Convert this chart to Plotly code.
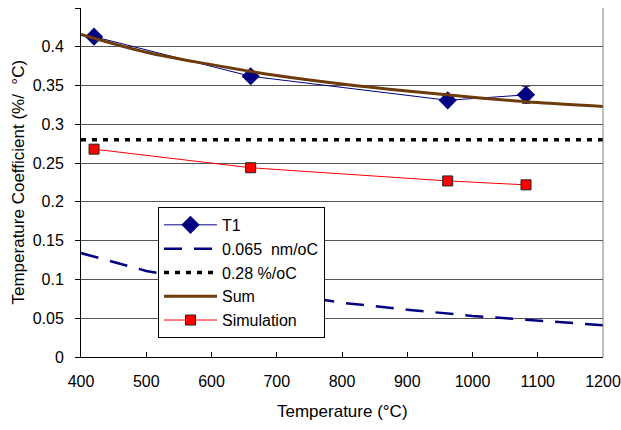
import plotly.graph_objects as go

# T1 measured
t1_x = [420, 660, 962, 1082]
t1_y = [0.413, 0.362, 0.331, 0.338]
t1_err = [0.004, 0.003, 0.003, 0.011]

# 0.065 nm/oC curve
nm_x = [400, 500, 600, 700, 800, 900, 1000, 1100, 1200]
nm_y = [0.134, 0.111, 0.095, 0.083, 0.070, 0.061, 0.053, 0.047, 0.041]

# 0.28 %/oC constant
pc_x = [400, 1200]
pc_y = [0.28, 0.28]

# Sum curve
sum_x = [400, 500, 600, 700, 800, 900, 1000, 1100, 1200]
sum_y = [0.416, 0.393, 0.377, 0.363, 0.352, 0.343, 0.335, 0.328, 0.323]

# Simulation
sim_x = [420, 660, 962, 1082]
sim_y = [0.268, 0.244, 0.227, 0.222]

x_ticks = [400, 500, 600, 700, 800, 900, 1000, 1100, 1200]
y_ticks = [0, 0.05, 0.1, 0.15, 0.2, 0.25, 0.3, 0.35, 0.4, 0.45]
y_labels = ["0", "0.05", "0.1", "0.15", "0.2", "0.25", "0.3", "0.35", "0.4", "0.45"]

FONT = "Liberation Sans"

fig = go.Figure()
fig.add_trace(go.Scatter(
    x=t1_x, y=t1_y, name="T1", mode="lines+markers",
    line=dict(color="#000080", width=1),
    marker=dict(symbol="diamond", size=14, color="#000080"),
    error_y=dict(type="data", array=t1_err, color="#333333", thickness=1, width=4),
))
fig.add_trace(go.Scatter(
    x=nm_x, y=nm_y, name="0.065  nm/oC", mode="lines",
    line=dict(color="#000080", width=2.5, dash="18px,12px"),
))
fig.add_trace(go.Scatter(
    x=pc_x, y=pc_y, name="0.28 %/oC", mode="lines",
    line=dict(color="#000000", width=3.5, dash="5px,6px"),
))
fig.add_trace(go.Scatter(
    x=sum_x, y=sum_y, name="Sum", mode="lines",
    line=dict(color="#6e3c0c", width=3, shape="spline"),
))
fig.add_trace(go.Scatter(
    x=sim_x, y=sim_y, name="Simulation", mode="lines+markers",
    line=dict(color="#ff0000", width=1),
    marker=dict(symbol="square", size=10, color="#ff0000", line=dict(color="#222222", width=1)),
))

fig.add_shape(type="line", xref="paper", yref="paper", x0=1, x1=1, y0=0, y1=1,
              line=dict(color="#808080", width=1))

fig.add_annotation(text="Temperature Coefficient (%/  °C)", xref="paper", yref="paper",
                   x=0, y=0.5, xshift=-63, textangle=-90, showarrow=False,
                   xanchor="center", yanchor="middle", font=dict(family=FONT, size=17))
fig.add_annotation(text="Temperature (°C)", xref="paper", yref="paper",
                   x=0.5, y=0, yshift=-54, showarrow=False,
                   xanchor="center", yanchor="middle", font=dict(family=FONT, size=17))

fig.update_layout(
    width=621, height=430,
    margin=dict(l=81, r=18, t=8, b=73),
    paper_bgcolor="white", plot_bgcolor="white",
    font=dict(family=FONT, size=16, color="black"),
    showlegend=True,
    legend=dict(
        x=0.1475, y=0.43, xanchor="left", yanchor="top",
        bgcolor="white", bordercolor="black", borderwidth=1,
        font=dict(family=FONT, size=16),
        tracegroupgap=0, itemwidth=53,
    ),
    xaxis=dict(
        range=[400, 1200], tickvals=x_ticks, ticktext=[str(v) for v in x_ticks],
        showgrid=False, zeroline=False, automargin=False,
        showline=True, linecolor="black", linewidth=1,
        ticks="inside", ticklen=5, tickcolor="black",
        tickfont=dict(size=16), ticklabelstandoff=10,
    ),
    yaxis=dict(
        range=[0, 0.45], tickvals=y_ticks, ticktext=y_labels,
        showgrid=True, gridcolor="#555555", gridwidth=1, zeroline=False, automargin=False,
        showline=True, linecolor="black", linewidth=1,
        ticks="outside", ticklen=5, tickcolor="black",
        tickfont=dict(size=16), ticklabelstandoff=8,
    ),
)

fig.write_html("out.html")
